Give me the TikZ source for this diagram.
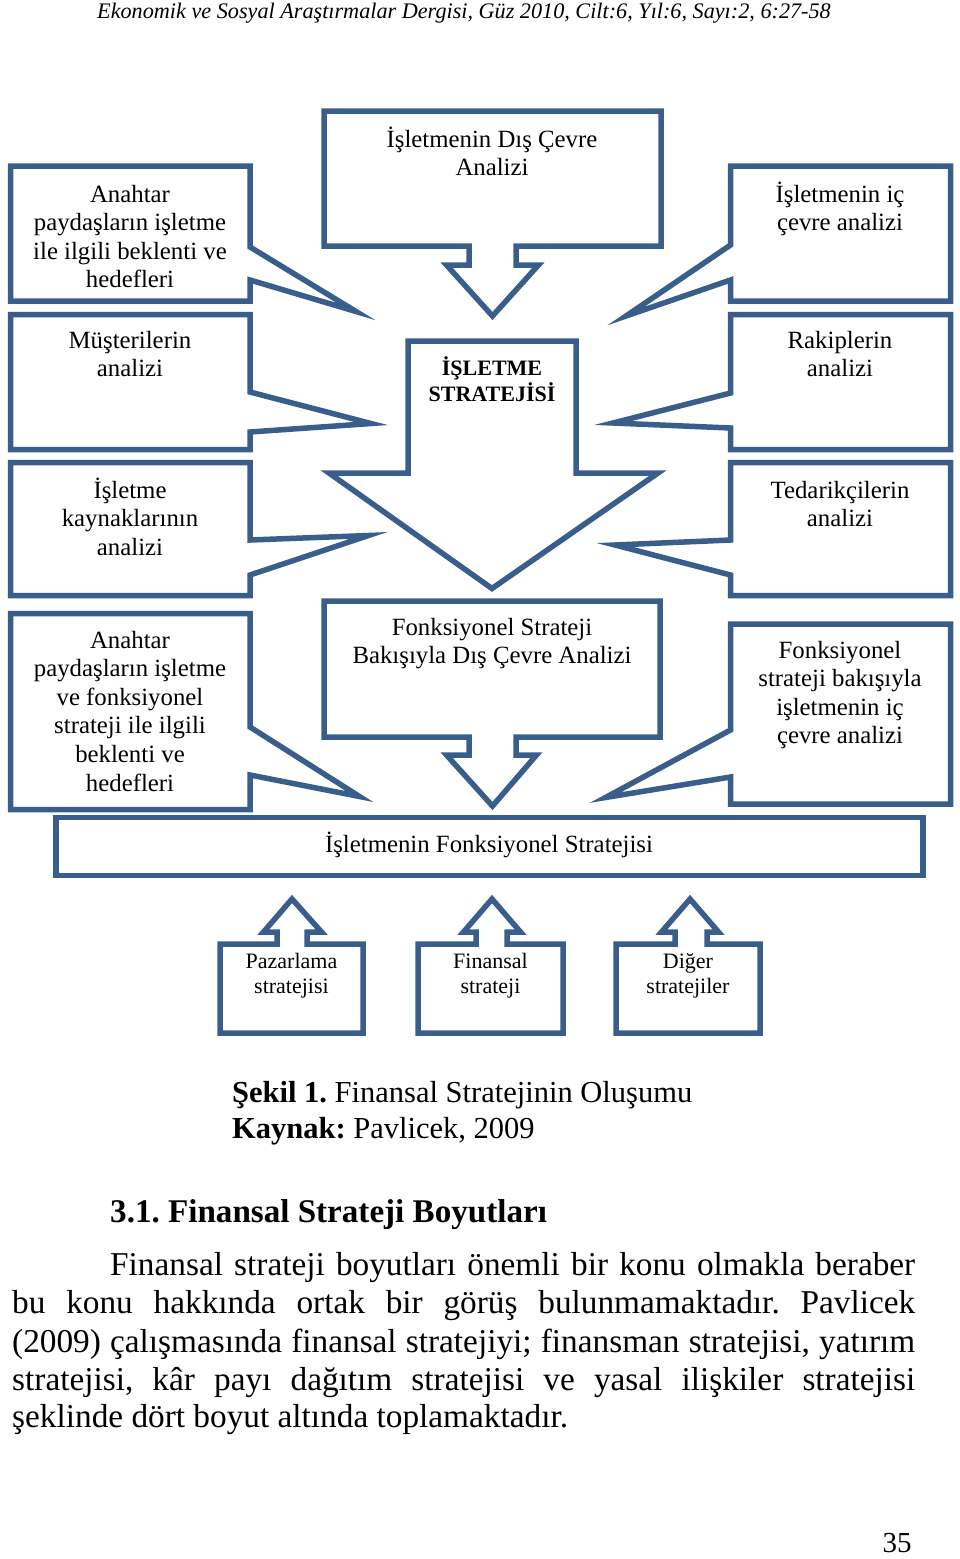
\documentclass[tikz,border=0pt]{standalone}
\usepackage{fontspec}
\setmainfont{Liberation Serif}
\frenchspacing
\definecolor{frame}{RGB}{58,94,140}
\tikzset{
  shp/.style={draw=frame, line width=5.5pt, line join=miter, miter limit=12, fill=white},
  txt/.style={inner sep=0pt, anchor=base, font=\fontsize{24.8}{28.6}\selectfont},
  smalltxt/.style={inner sep=0pt, anchor=base, font=\fontsize{22}{25}\selectfont},
  bodytxt/.style={inner sep=0pt, anchor=base west, font=\fontsize{33.3}{38.4}\selectfont},
  captxt/.style={inner sep=0pt, anchor=base west, font=\fontsize{30.5}{36}\selectfont}
}
\begin{document}
\begin{tikzpicture}[x=1pt,y=-1pt]
\useasboundingbox (0,0) rectangle (960,1559);
\fill[white] (0,0) rectangle (960,1559);

% header
\node[inner sep=0pt, anchor=base, font=\fontsize{22.2}{26}\selectfont\itshape] (hdr) at (464,18)
  {Ekonomik ve Sosyal Araştırmalar Dergisi, Güz 2010, Cilt:6, Yıl:6, Sayı:2, 6:27-58};

% left callouts
\draw[shp] (10.5,166) -- (250,166) -- (250,247) -- (356,311.5) -- (250,280) -- (250,301) -- (10.5,301) -- cycle;
\draw[shp] (10.5,314.5) -- (250,314.5) -- (250,392) -- (371,423.5) -- (250,432) -- (250,449.5) -- (10.5,449.5) -- cycle;
\draw[shp] (10.5,462.5) -- (250,462.5) -- (250,540) -- (368.5,535.5) -- (250,575) -- (250,595.5) -- (10.5,595.5) -- cycle;
\draw[shp] (10.5,613.5) -- (250,613.5) -- (250,727) -- (359.5,796.5) -- (250,775) -- (250,809.5) -- (10.5,809.5) -- cycle;

% right callouts
\draw[shp] (730.5,166) -- (950.5,166) -- (950.5,301) -- (730.5,301) -- (730.5,280) -- (626,316) -- (730.5,245) -- cycle;
\draw[shp] (730.5,314.5) -- (950.5,314.5) -- (950.5,449.5) -- (730.5,449.5) -- (730.5,428) -- (613,423) -- (730.5,393) -- cycle;
\draw[shp] (730.5,462.5) -- (950.5,462.5) -- (950.5,595.5) -- (730.5,595.5) -- (730.5,575) -- (615,545) -- (730.5,540) -- cycle;
\draw[shp] (730.5,624) -- (950.5,624) -- (950.5,804) -- (730.5,804) -- (730.5,777) -- (605.5,797.5) -- (730.5,730) -- cycle;

% center arrows
\draw[shp] (324,111) -- (661,111) -- (661,246) -- (516,246) -- (516,265) -- (538.5,265) -- (492.5,316) -- (446.5,265) -- (469,265) -- (469,246) -- (324,246) -- cycle;
\draw[shp] (408,341) -- (576,341) -- (576,473) -- (658,473) -- (492,588.5) -- (329,473) -- (408,473) -- cycle;
\draw[shp] (324,601) -- (660,601) -- (660,737) -- (516,737) -- (516,755) -- (536.5,755) -- (492.5,806) -- (446.5,755) -- (469,755) -- (469,737) -- (324,737) -- cycle;

% wide box
\draw[shp] (56,817.5) rectangle (923,875.5);

% small up arrows
\draw[shp] (220,1033) -- (220,944) -- (277,944) -- (277,932) -- (263.5,932) -- (292,899) -- (321.5,932) -- (307,932) -- (307,944) -- (363,944) -- (363,1033) -- cycle;
\draw[shp] (418,1033) -- (418,944) -- (476,944) -- (476,932) -- (463.5,932) -- (492,899) -- (520.5,932) -- (507,932) -- (507,944) -- (563,944) -- (563,1033) -- cycle;
\draw[shp] (616,1033) -- (616,944) -- (675,944) -- (675,932) -- (661.5,932) -- (690,899) -- (718.5,932) -- (707,932) -- (707,944) -- (760,944) -- (760,1033) -- cycle;

% texts in boxes
\node[txt] (l1) at (130,202) {\parbox[t]{236pt}{\centering Anahtar\\paydaşların işletme\\ile ilgili beklenti ve\\hedefleri}};
\node[txt] (l2) at (130,348) {\parbox[t]{236pt}{\centering Müşterilerin\\analizi}};
\node[txt] (l3) at (130,498) {\parbox[t]{236pt}{\centering İşletme\\kaynaklarının\\analizi}};
\node[txt] (l4) at (130,648) {\parbox[t]{236pt}{\centering Anahtar\\paydaşların işletme\\ve fonksiyonel\\strateji ile ilgili\\beklenti ve\\hedefleri}};

\node[txt] (r1) at (840,202) {\parbox[t]{216pt}{\centering İşletmenin iç\\çevre analizi}};
\node[txt] (r2) at (840,348) {\parbox[t]{216pt}{\centering Rakiplerin\\analizi}};
\node[txt] (r3) at (840,498) {\parbox[t]{216pt}{\centering Tedarikçilerin\\analizi}};
\node[txt] (r4) at (840,658) {\parbox[t]{216pt}{\centering Fonksiyonel\\strateji bakışıyla\\işletmenin iç\\çevre analizi}};

\node[txt] (c1) at (492,147) {\parbox[t]{330pt}{\centering İşletmenin Dış Çevre\\Analizi}};
\node[txt, font=\fontsize{22}{26}\selectfont\bfseries] (c2) at (492,375) {\parbox[t]{160pt}{\centering İŞLETME\\STRATEJİSİ}};
\node[txt] (c3) at (492,635) {\parbox[t]{330pt}{\centering Fonksiyonel Strateji\\Bakışıyla Dış Çevre Analizi}};
\node[txt] (w) at (489,852) {İşletmenin Fonksiyonel Stratejisi};

\node[smalltxt] (s1) at (291.5,968) {\parbox[t]{140pt}{\centering Pazarlama\\stratejisi}};
\node[smalltxt] (s2) at (490.5,968) {\parbox[t]{140pt}{\centering Finansal\\strateji}};
\node[smalltxt] (s3) at (688,968) {\parbox[t]{140pt}{\centering Diğer\\stratejiler}};

% caption
\node[captxt] (cap1) at (232,1102) {\textbf{Şekil 1.} Finansal Stratejinin Oluşumu};
\node[captxt] (cap2) at (232,1138) {\textbf{Kaynak:} Pavlicek, 2009};

% heading
\node[bodytxt, font=\fontsize{33.1}{38}\selectfont\bfseries] (hd) at (110,1222) {3.1. Finansal Strateji Boyutları};

% body
\node[bodytxt] (p1) at (110,1275) {\makebox[805pt][s]{Finansal strateji boyutları önemli bir konu olmakla beraber}};
\node[bodytxt] (p2) at (12,1313) {\makebox[903pt][s]{bu konu hakkında ortak bir görüş bulunmamaktadır. Pavlicek}};
\node[bodytxt] (p3) at (12,1352) {\makebox[903pt][s]{(2009) çalışmasında finansal stratejiyi; finansman stratejisi, yatırım}};
\node[bodytxt] (p4) at (12,1390) {\makebox[903pt][s]{stratejisi, kâr payı dağıtım stratejisi ve yasal ilişkiler stratejisi}};
\node[bodytxt] (p5) at (12,1427) {şeklinde dört boyut altında toplamaktadır.};

% page number
\node[inner sep=0pt, anchor=base, font=\fontsize{29}{32}\selectfont] (pg) at (897,1552) {35};
\end{tikzpicture}
\end{document}
